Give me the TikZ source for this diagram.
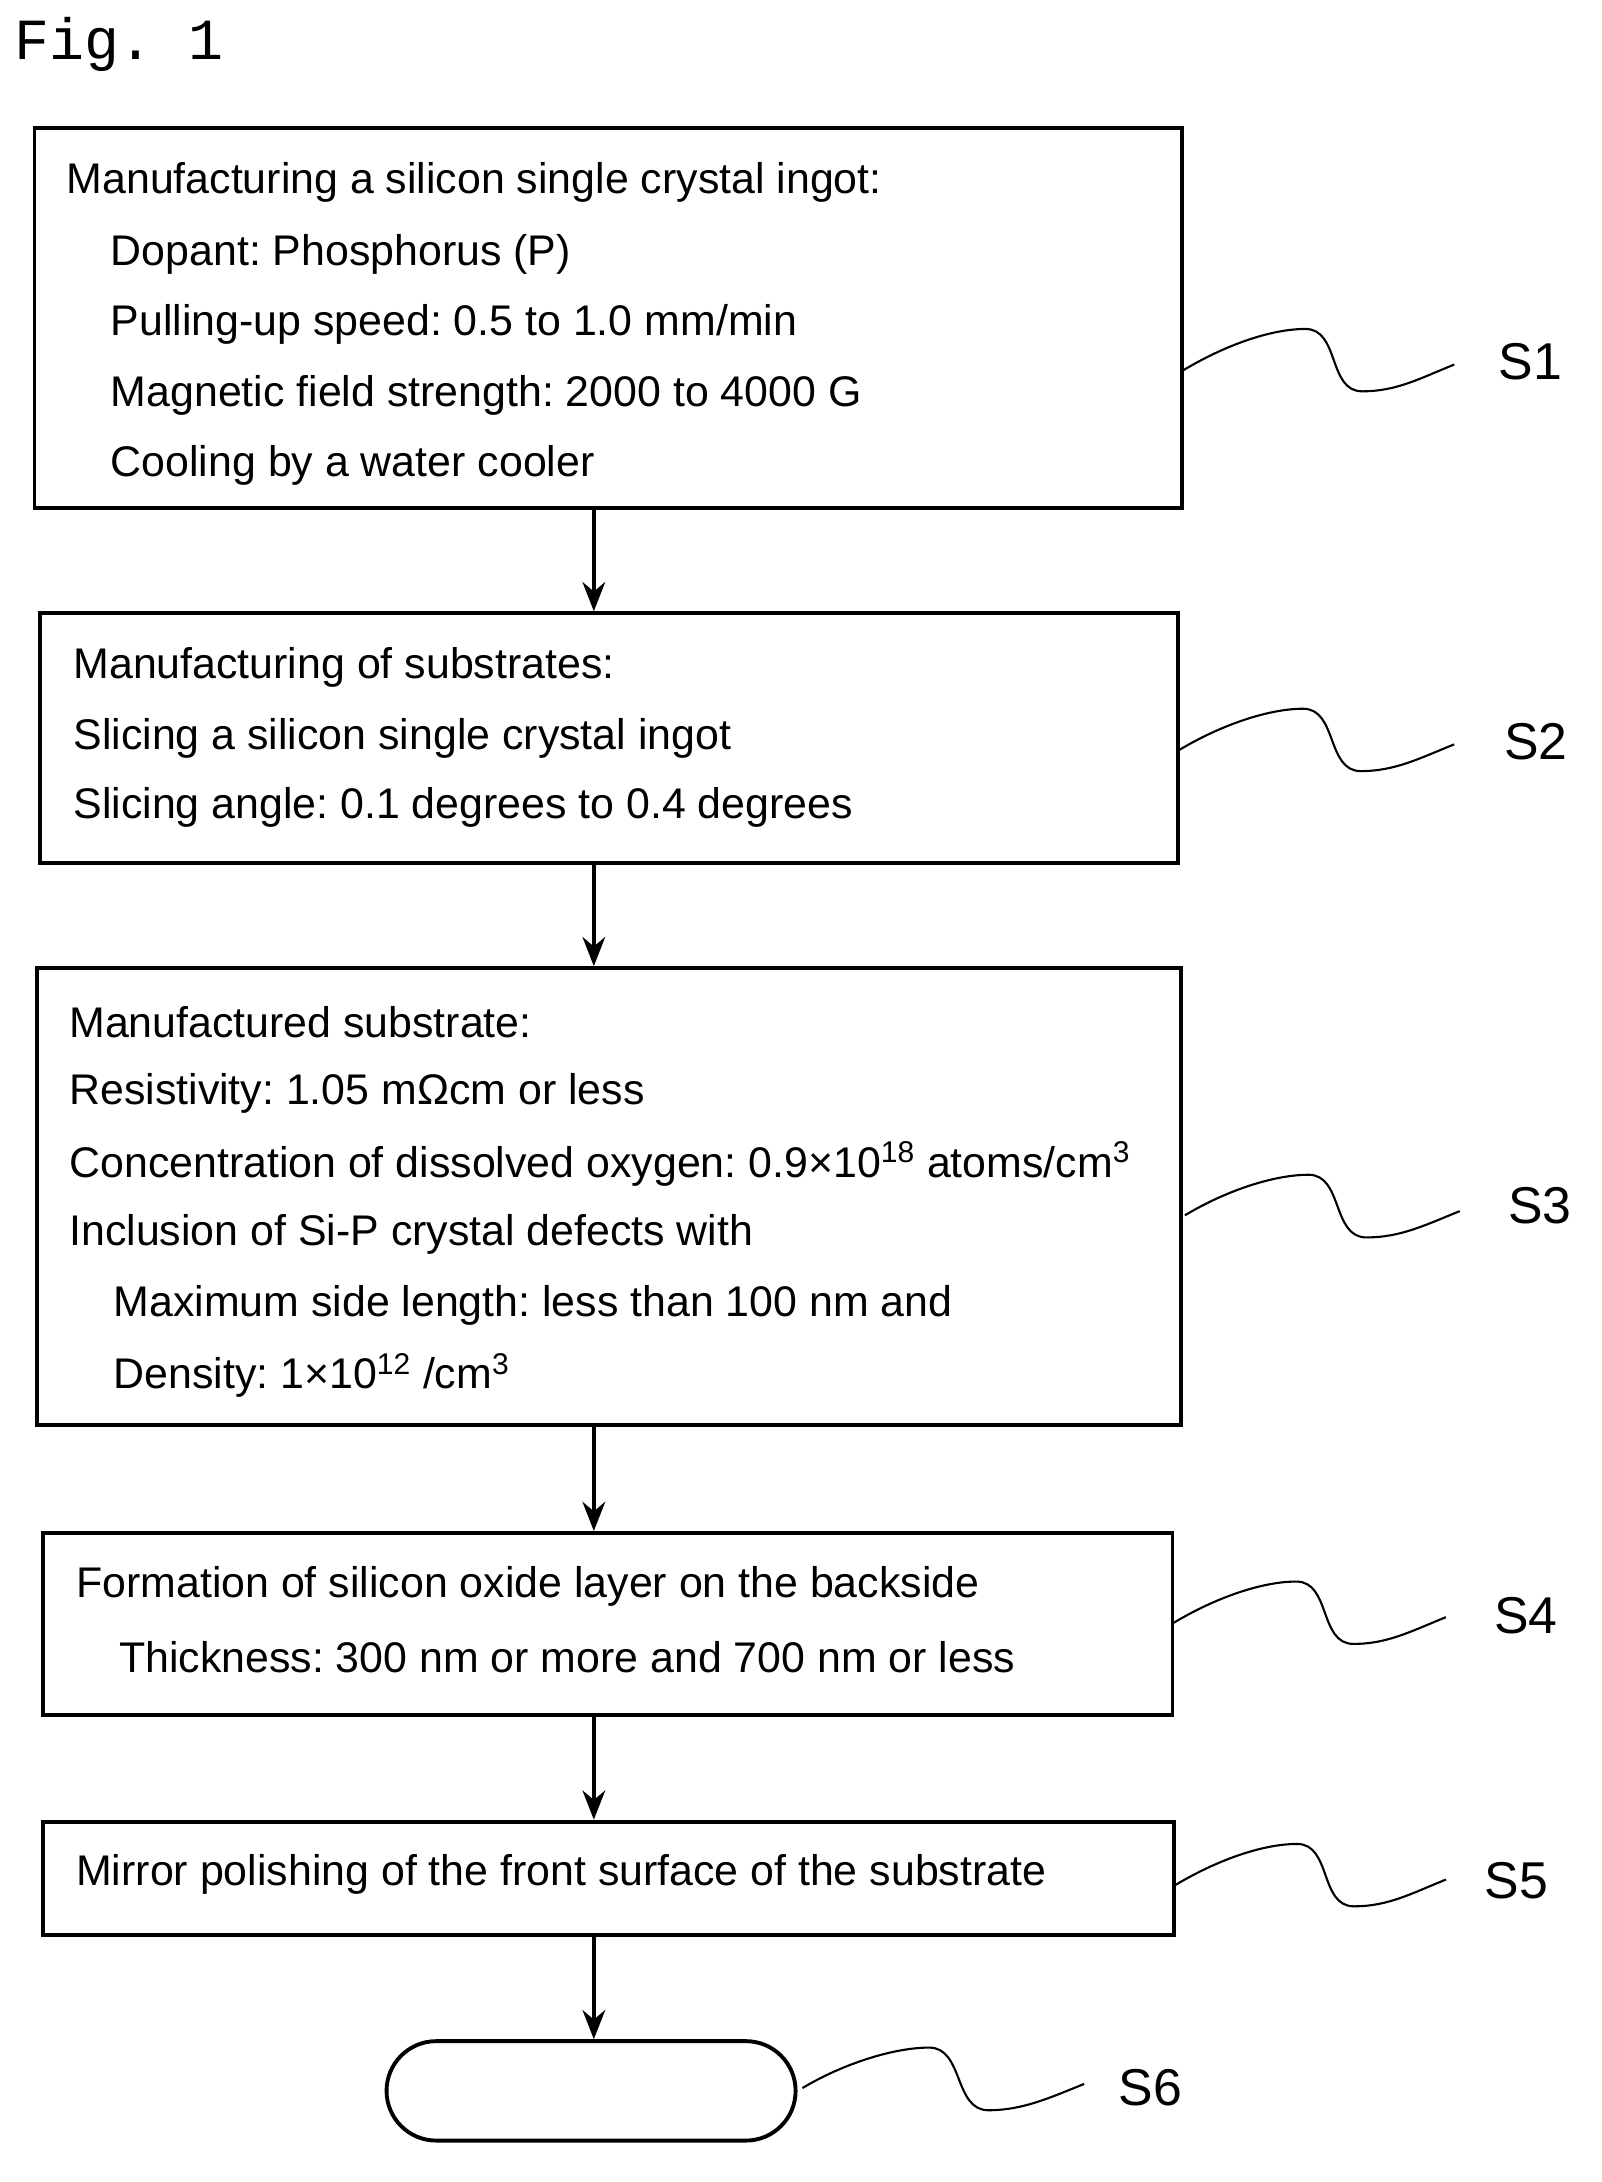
\documentclass[tikz,border=0pt]{standalone}
\usepackage{fontspec}
\setmainfont{Liberation Sans}
\newfontfamily\figfont{Liberation Mono}
\usetikzlibrary{arrows.meta,shapes.misc,calc}
\tikzset{
  stage/.style={rectangle, draw=black, line width=2.4pt, inner sep=0pt},
  line/.style={anchor=west, inner sep=0pt, font=\fontsize{26.5}{31}\selectfont},
  flow/.style={-{Stealth[length=18pt,width=14pt]}, line width=2.6pt},
  wave/.style={line width=1.3pt},
  tag/.style={font=\fontsize{32}{36}\selectfont, inner sep=0pt}
}
\newcommand{\squiggle}[2]{% from coordinate #1 to #2
  \draw[wave] (#1) .. controls +(30,-18) and +(-25,0) .. ($(#1)!0.45!(#2)+(0,-28)$)
    .. controls +(25,0) and +(-25,0) .. ($(#1)!0.66!(#2)+(0,18)$)
    .. controls +(25,0) and +(-25,10) .. (#2);}
\begin{document}
\frenchspacing
\begin{tikzpicture}[x=0.03cm, y=-0.03cm]
\useasboundingbox (0,0) rectangle (1160,1580);
\node[anchor=west, inner sep=0pt, font=\figfont\fontsize{36}{40}\selectfont] (fig) at (10,32) {Fig. 1};

% S1
\node[stage, minimum width=831*0.03cm, minimum height=275*0.03cm] (s1) at (440.5,230.5) {};
\node[line] (t11) at (48,132) {Manufacturing a silicon single crystal ingot:};
\node[line] (t12) at (80,184) {Dopant: Phosphorus (P)};
\node[line] (t13) at (80,235) {Pulling-up speed: 0.5 to 1.0 mm/min};
\node[line] (t14) at (80,286) {Magnetic field strength: 2000 to 4000 G};
\node[line] (t15) at (80,337) {Cooling by a water cooler};

% S2
\node[stage, minimum width=824*0.03cm, minimum height=181*0.03cm] (s2) at (441,534.5) {};
\node[line] (t21) at (53,483) {Manufacturing of substrates:};
\node[line] (t22) at (53,535) {Slicing a silicon single crystal ingot};
\node[line] (t23) at (53,585) {Slicing angle: 0.1 degrees to 0.4 degrees};

% S3
\node[stage, minimum width=828*0.03cm, minimum height=331*0.03cm] (s3) at (441,866.5) {};
\node[line] (t31) at (50,740) {Manufactured substrate:};
\node[line] (t32) at (50,792) {Resistivity: 1.05 mΩcm or less};
\node[line] (t33) at (50,843) {Concentration of dissolved oxygen: 0.9×10\textsuperscript{18} atoms/cm\textsuperscript{3}};
\node[line] (t34) at (50,894) {Inclusion of Si-P crystal defects with};
\node[line] (t35) at (82,945) {Maximum side length: less than 100 nm and};
\node[line] (t36) at (82,996) {Density: 1×10\textsuperscript{12} /cm\textsuperscript{3}};

% S4
\node[stage, minimum width=818*0.03cm, minimum height=132*0.03cm] (s4) at (440,1176) {};
\node[line] (t41) at (55,1149) {Formation of silicon oxide layer on the backside};
\node[line] (t42) at (86,1200) {Thickness: 300 nm or more and 700 nm or less};

% S5
\node[stage, minimum width=819*0.03cm, minimum height=82*0.03cm] (s5) at (440.5,1360) {};
\node[line] (t51) at (55,1357) {Mirror polishing of the front surface of the substrate};

% S6
\node[rounded rectangle, draw=black, line width=2.4pt, minimum width=304*0.03cm, minimum height=72*0.03cm] (s6) at (428,1514) {};

% arrows
\draw[flow] (s1.south -| 430,0) -- (s2.north -| 430,0);
\draw[flow] (s2.south -| 430,0) -- (s3.north -| 430,0);
\draw[flow] (s3.south -| 430,0) -- (s4.north -| 430,0);
\draw[flow] (s4.south -| 430,0) -- (s5.north -| 430,0);
\draw[flow] (s5.south -| 430,0) -- (s6.north -| 430,0);

% labels
\coordinate (w1a) at (857,268); \coordinate (w1b) at (1053,264);
\coordinate (w2a) at (854,543); \coordinate (w2b) at (1053,539);
\coordinate (w3a) at (858,880); \coordinate (w3b) at (1057,877);
\coordinate (w4a) at (850,1175); \coordinate (w4b) at (1047,1171);
\coordinate (w5a) at (851,1365); \coordinate (w5b) at (1047,1361);
\coordinate (w6a) at (581,1512); \coordinate (w6b) at (785,1509);
\squiggle{w1a}{w1b} \squiggle{w2a}{w2b} \squiggle{w3a}{w3b}
\squiggle{w4a}{w4b} \squiggle{w5a}{w5b} \squiggle{w6a}{w6b}
\node[tag] (l1) at (1108,262) {S1};
\node[tag] (l2) at (1112,537) {S2};
\node[tag] (l3) at (1115,873) {S3};
\node[tag] (l4) at (1105,1170) {S4};
\node[tag] (l5) at (1098,1362) {S5};
\node[tag] (l6) at (833,1512) {S6};
\end{tikzpicture}
\end{document}
